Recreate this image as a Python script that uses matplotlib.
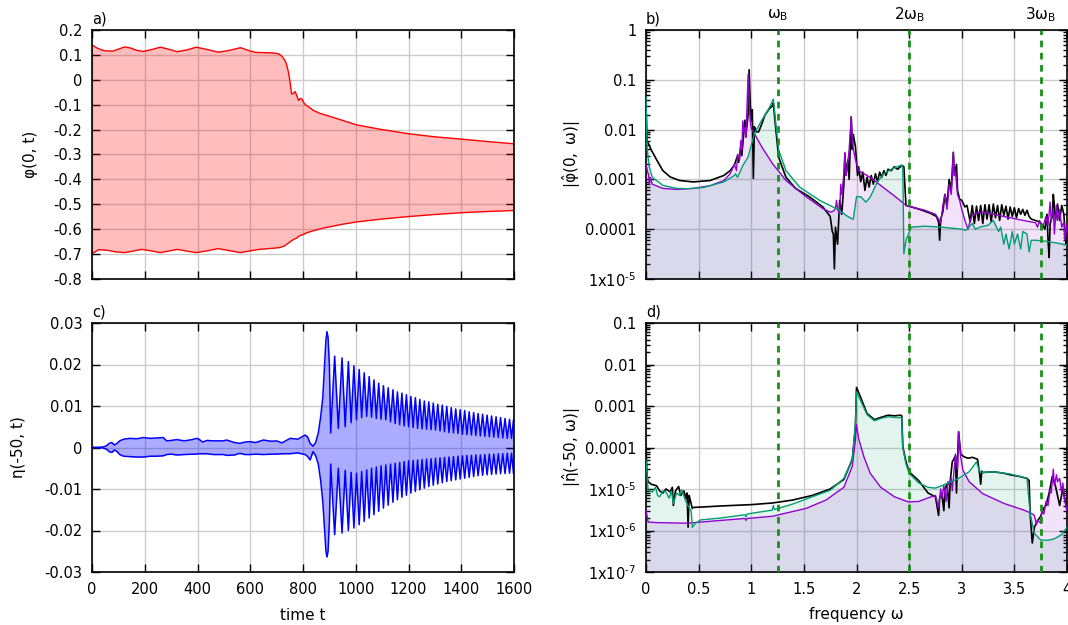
import numpy as np
import matplotlib.pyplot as plt

plt.rcParams['font.family'] = 'DejaVu Sans'
plt.rcParams['font.size'] = 10.5
plt.rcParams['axes.unicode_minus'] = False
plt.rcParams['mathtext.fontset'] = 'dejavusans'

# ---- a) phi(0,t): upper / lower envelope of the fast oscillation
phi_up = [(0, 0.140), (20, 0.127), (45, 0.117), (78, 0.115), (100, 0.123), (123, 0.132),
          (145, 0.128), (170, 0.118), (194, 0.114), (225, 0.121), (259, 0.131), (290, 0.123),
          (323, 0.113), (360, 0.120), (395, 0.131), (435, 0.122), (479, 0.111), (520, 0.118),
          (563, 0.129), (595, 0.117), (621, 0.110), (686, 0.108), (705, 0.105), (718, 0.097),
          (730, 0.080), (737, 0.064), (745, 0.030), (750, -0.003), (757, -0.057), (763, -0.055),
          (770, -0.047), (777, -0.065), (783, -0.083), (790, -0.075), (796, -0.077),
          (803, -0.092), (809, -0.100), (820, -0.108), (841, -0.124), (865, -0.135),
          (893, -0.144), (950, -0.163), (1003, -0.181), (1100, -0.200), (1203, -0.217),
          (1300, -0.229), (1397, -0.238), (1500, -0.248), (1600, -0.257)]
phi_lo = [(0, -0.698), (26, -0.682), (60, -0.685), (90, -0.691), (123, -0.694), (155, -0.688),
          (188, -0.681), (225, -0.687), (259, -0.694), (290, -0.688), (323, -0.681),
          (360, -0.688), (395, -0.694), (440, -0.686), (479, -0.678), (520, -0.686),
          (563, -0.694), (600, -0.687), (634, -0.681), (680, -0.677), (711, -0.674),
          (730, -0.667), (744, -0.656), (763, -0.642), (775, -0.636), (789, -0.625),
          (800, -0.622), (815, -0.614), (850, -0.603), (880, -0.595), (950, -0.580),
          (1003, -0.571), (1100, -0.559), (1203, -0.549), (1300, -0.541), (1397, -0.534),
          (1500, -0.529), (1600, -0.525)]

# ---- c) eta(-50,t): outline before the burst
t_c0 = [0, 40, 55, 65, 75, 85, 95, 105, 120, 144, 170, 195, 220, 245, 270, 283, 300, 321,
        350, 380, 397, 403, 420, 435, 460, 498, 511, 540, 560, 580, 599, 620, 650, 680, 700,
        720, 751, 780, 808, 818, 827, 838, 848, 858, 867, 875, 882, 887, 891, 895, 900, 905]
eta_up0 = [0, .0001, .0004, .0010, .0012, .0006, .0010, .0016, .0020, .0022,
           .0021, .0024, .0022, .0023, .0024, .0016, .0017, .0019, .0016, .0019,
           .0022, .0021, .0013, .0017, .0016, .0016, .0018, .0012, .0010, .0013,
           .0014, .0012, .0018, .0015, .0016, .0011, .0022, .0020, .0030, .0025,
           .0010, .0003, .0012, .0035, .0074, .0120, .0200, .0260, .0279, .0265,
           .0200, .0035]
eta_lo0 = [0, -.0001, -.0004, -.0010, -.0012, -.0006, -.0010, -.0017, -.0021, -.0022,
           -.0023, -.0023, -.0021, -.0021, -.0020, -.0017, -.0016, -.0018, -.0017, -.0016,
           -.0016, -.0015, -.0015, -.0015, -.0017, -.0017, -.0019, -.0018, -.0014, -.0017,
           -.0017, -.0016, -.0017, -.0016, -.0016, -.0015, -.0015, -.0013, -.0017, -.0022,
           -.0030, -.0010, -.0020, -.0040, -.0080, -.0130, -.0200, -.0250, -.0264, -.0250,
           -.0180, -.0040]

# after the burst: individual oscillation peaks and the dips between them
t_pk = [920, 948, 972, 993, 1013, 1032, 1051, 1069, 1087, 1105, 1123, 1141, 1158, 1175,
        1192, 1209, 1226, 1243, 1260, 1277, 1294, 1311, 1328, 1345, 1362, 1379, 1396, 1413,
        1430, 1447, 1464, 1481, 1498, 1515, 1532, 1549, 1566, 1583, 1598]
up_pk = [.0220, .0216, .0207, .0197, .0188, .0180, .0171, .0163, .0155, .0149, .0144, .0139,
         .0134, .0131, .0127, .0123, .0120, .0116, .0112, .0110, .0107, .0104, .0102, .0099,
         .0096, .0093, .0091, .0089, .0086, .0084, .0082, .0080, .0078, .0076, .0074, .0072,
         .0070, .0068, .0066]
up_vl = [.0046, .0050, .0060, .0067, .0072, .0075, .0073, .0070, .0068, .0067, .0062, .0058,
         .0055, .0052, .0050, .0048, .0046, .0045, .0044, .0043, .0042, .0040, .0038, .0036,
         .0035, .0034, .0032, .0031, .0030, .0029, .0028, .0027, .0026, .0025, .0024, .0023,
         .0022, .0022]
lo_pk = [-.0210, -.0206, -.0200, -.0194, -.0186, -.0178, -.0170, -.0162, -.0154, -.0146,
         -.0139, -.0132, -.0126, -.0120, -.0115, -.0110, -.0106, -.0102, -.0098, -.0094,
         -.0091, -.0088, -.0085, -.0082, -.0080, -.0078, -.0076, -.0074, -.0072, -.0070,
         -.0068, -.0067, -.0066, -.0065, -.0064, -.0063, -.0063, -.0062, -.0062]
lo_vl = [-.0050, -.0055, -.0060, -.0062, -.0058, -.0054, -.0050, -.0047, -.0044, -.0042,
         -.0040, -.0038, -.0036, -.0034, -.0032, -.0031, -.0030, -.0029, -.0028, -.0027,
         -.0026, -.0025, -.0024, -.0023, -.0022, -.0021, -.0020, -.0019, -.0019, -.0018,
         -.0018, -.0017, -.0016, -.0016, -.0015, -.0015, -.0014, -.0014]

# ---- b) |phi_hat(0, w)|
b_black = [(0.0, 3e-2), (0.01, 6e-3), (0.05, 3.9e-3), (0.10, 2.5e-3), (0.16, 1.5e-3),
           (0.23, 1.12e-3), (0.32, 9.5e-4), (0.45, 8.9e-4), (0.61, 9.5e-4), (0.74, 1.2e-3),
           (0.80, 1.5e-3), (0.84, 1.95e-3), (0.87, 3.0e-3), (0.88, 2.2e-3), (0.90, 4.5e-3),
           (0.91, 3.0e-3), (0.93, 9e-3), (0.94, 1.55e-2), (0.95, 8e-3), (0.97, 2e-2),
           (0.98, 0.16), (0.99, 3.4e-2), (1.00, 1.5e-2), (1.01, 2.5e-2), (1.02, 1.05e-3),
           (1.03, 1.15e-2), (1.05, 9e-3), (1.07, 9e-3), (1.10, 1.3e-2), (1.13, 1.95e-2),
           (1.17, 2.6e-2), (1.20, 3.0e-2), (1.21, 3.4e-2), (1.23, 1.2e-2), (1.26, 2.8e-3),
           (1.33, 1.1e-3), (1.42, 6.6e-4), (1.55, 4.5e-4), (1.68, 2.8e-4), (1.75, 1.8e-4),
           (1.77, 9e-5), (1.78, 8e-5), (1.79, 1.6e-5), (1.80, 1.1e-4), (1.82, 5e-5),
           (1.84, 3.8e-4), (1.86, 2e-4), (1.88, 8e-4), (1.89, 3.3e-3), (1.90, 1.3e-3),
           (1.92, 2.5e-3), (1.93, 1.0e-3), (1.95, 1.8e-2), (1.96, 4e-3), (1.97, 8e-3),
           (1.99, 4.5e-3), (2.01, 1.2e-3), (2.02, 1.8e-3), (2.04, 9e-4), (2.06, 1.4e-3),
           (2.08, 6e-4), (2.10, 1.1e-3), (2.12, 7e-4), (2.14, 1.2e-3), (2.16, 8e-4),
           (2.18, 1.3e-3), (2.20, 9e-4), (2.22, 1.4e-3), (2.24, 1.1e-3), (2.26, 1.5e-3),
           (2.28, 1.2e-3), (2.30, 1.6e-3), (2.33, 1.5e-3), (2.36, 1.8e-3), (2.39, 1.6e-3),
           (2.43, 1.9e-3), (2.45, 1.8e-3), (2.47, 3.0e-4), (2.50, 2.9e-4), (2.60, 2.5e-4),
           (2.70, 2.1e-4), (2.76, 1.8e-4), (2.78, 1.4e-4), (2.79, 6e-5), (2.80, 1.6e-4),
           (2.82, 2.2e-4), (2.84, 5e-4), (2.86, 3e-4), (2.88, 1e-3), (2.90, 6e-4),
           (2.92, 3.5e-3), (2.93, 1.2e-3), (2.95, 2e-3), (2.96, 6e-4), (2.98, 4e-4),
           (3.00, 3.8e-4), (3.03, 2.8e-4), (3.05, 3.0e-4), (3.08, 1.4e-4), (3.10, 3.0e-4),
           (3.12, 1.3e-4), (3.14, 2.9e-4), (3.16, 1.5e-4), (3.18, 3.0e-4), (3.20, 1.3e-4),
           (3.22, 3.1e-4), (3.24, 1.6e-4), (3.26, 3.1e-4), (3.28, 1.4e-4), (3.30, 3.2e-4),
           (3.32, 1.7e-4), (3.34, 3.0e-4), (3.36, 1.5e-4), (3.38, 3.1e-4), (3.40, 1.9e-4),
           (3.42, 2.9e-4), (3.44, 1.6e-4), (3.46, 2.8e-4), (3.48, 1.8e-4), (3.50, 2.7e-4),
           (3.52, 1.7e-4), (3.54, 2.6e-4), (3.56, 2.0e-4), (3.58, 2.5e-4), (3.60, 1.9e-4),
           (3.62, 2.4e-4), (3.64, 1.8e-4), (3.66, 1.6e-4), (3.70, 1.5e-4), (3.74, 1.4e-4),
           (3.77, 1.2e-4), (3.79, 1.0e-4), (3.81, 2.0e-4), (3.82, 6e-5), (3.83, 2.7e-5),
           (3.84, 1.3e-4), (3.86, 1.8e-4), (3.87, 5e-4), (3.88, 3e-4), (3.89, 1.5e-4),
           (3.91, 3.2e-4), (3.93, 1.5e-4), (3.95, 3.0e-4), (3.97, 2.0e-4), (3.99, 5e-5),
           (4.0, 1.2e-4)]
b_purple = [(0.0, 2.0e-3), (0.02, 1.3e-3), (0.025, 1.3e-3), (0.03, 8e-4), (0.04, 1.1e-3),
            (0.06, 8e-4), (0.16, 6.6e-4), (0.29, 6.3e-4), (0.45, 6.6e-4), (0.61, 7.5e-4),
            (0.74, 9.5e-4), (0.80, 1.3e-3), (0.84, 2.0e-3), (0.86, 1.5e-3), (0.87, 3.2e-3),
            (0.89, 2.5e-3), (0.90, 6e-3), (0.91, 4e-3), (0.92, 1.5e-2), (0.93, 9e-3),
            (0.94, 1.1e-2), (0.95, 7e-3), (0.97, 0.13), (0.98, 3.9e-2), (0.99, 1.5e-2),
            (1.00, 1.05e-2), (1.03, 8.3e-3), (1.10, 4.5e-3), (1.20, 2.1e-3), (1.33, 9.5e-4),
            (1.52, 4.5e-4), (1.68, 2.6e-4), (1.75, 2.2e-4), (1.78, 2.3e-4), (1.80, 2.6e-4),
            (1.81, 3.8e-4), (1.82, 2.5e-4), (1.84, 2.0e-4), (1.85, 8e-4), (1.86, 5e-4),
            (1.88, 1.3e-3), (1.89, 3.5e-3), (1.90, 1.2e-3), (1.91, 1.5e-3), (1.93, 4e-3),
            (1.95, 1.8e-2), (1.96, 6e-3), (1.97, 4e-3), (1.99, 2.5e-3), (2.02, 1.5e-3),
            (2.10, 1.2e-3), (2.17, 9.5e-4), (2.25, 7e-4), (2.33, 5.2e-4), (2.40, 4e-4),
            (2.47, 3.0e-4), (2.55, 2.7e-4), (2.65, 2.4e-4), (2.75, 2.0e-4), (2.78, 1.6e-4),
            (2.80, 1.3e-4), (2.82, 3e-4), (2.84, 5e-4), (2.86, 2.5e-4), (2.88, 8e-4),
            (2.90, 5e-4), (2.92, 3.5e-3), (2.93, 1.2e-3), (2.94, 1.5e-3), (2.96, 5e-4),
            (2.98, 3.8e-4), (3.00, 2.5e-4), (3.03, 1.5e-4), (3.06, 1.0e-4), (3.08, 1.5e-4),
            (3.10, 1.9e-4), (3.15, 2.2e-4), (3.20, 2.2e-4), (3.30, 2.0e-4), (3.40, 1.8e-4),
            (3.46, 1.7e-4), (3.55, 1.55e-4), (3.62, 1.45e-4), (3.70, 1.35e-4), (3.72, 1.1e-4),
            (3.74, 1.5e-4), (3.76, 1.0e-4), (3.78, 1.3e-4), (3.80, 1.8e-4), (3.82, 1.2e-4),
            (3.84, 3.5e-4), (3.85, 1.5e-4), (3.87, 2.5e-4), (3.88, 8e-5), (3.90, 3.0e-4),
            (3.91, 1.5e-4), (3.93, 2.5e-4), (3.95, 1.1e-4), (3.97, 1.4e-4), (3.98, 6e-5),
            (4.0, 1.2e-4)]
b_teal = [(0.0, 4.5e-2), (0.01, 4.5e-3), (0.03, 1.8e-3), (0.06, 1.1e-3), (0.16, 7.6e-4),
          (0.29, 6.6e-4), (0.40, 6.5e-4), (0.55, 6.9e-4), (0.74, 8.9e-4), (0.84, 1.2e-3),
          (0.85, 1.3e-3), (0.87, 1.1e-3), (0.92, 1.9e-3), (0.97, 2.8e-3), (1.03, 8.3e-3),
          (1.10, 1.55e-2), (1.16, 2.45e-2), (1.21, 4.1e-2), (1.23, 1.55e-2), (1.26, 3.9e-3),
          (1.33, 1.5e-3), (1.46, 7e-4), (1.65, 3.8e-4), (1.84, 2.4e-4), (1.90, 1.9e-4),
          (1.96, 1.6e-4), (1.97, 1.6e-4), (2.00, 4.5e-4), (2.04, 4.5e-4), (2.09, 3.5e-4),
          (2.13, 4.4e-4), (2.20, 9e-4), (2.26, 1.3e-3), (2.33, 1.6e-3), (2.43, 1.95e-3),
          (2.44, 1.7e-3), (2.45, 3.2e-5), (2.47, 6e-5), (2.52, 1.1e-4), (2.65, 1.15e-4),
          (2.81, 1.1e-4), (3.00, 1.0e-4), (3.04, 9.5e-5), (3.10, 1.3e-4), (3.13, 1.0e-4),
          (3.17, 1.1e-4), (3.25, 1.2e-4), (3.30, 1.5e-4), (3.35, 9e-5), (3.37, 1.1e-4),
          (3.40, 5e-5), (3.42, 8e-5), (3.45, 4e-5), (3.48, 9e-5), (3.50, 5e-5), (3.53, 8e-5),
          (3.56, 4e-5), (3.58, 9e-5), (3.62, 8e-5), (3.64, 3.5e-5), (3.66, 6e-5),
          (3.70, 6e-5), (3.78, 5.8e-5), (3.90, 5.3e-5), (4.0, 4.8e-5)]

# ---- d) |eta_hat(-50, w)|
d_black = [(0.0, 8.7e-5), (0.01, 2.0e-5), (0.02, 1.5e-5), (0.05, 1.3e-5), (0.10, 1.2e-5),
           (0.13, 9e-6), (0.16, 8e-6), (0.19, 1.0e-5), (0.23, 8.5e-6), (0.25, 1.1e-5),
           (0.26, 4e-6), (0.28, 9e-6), (0.31, 1.15e-5), (0.33, 7e-6), (0.36, 9e-6),
           (0.38, 6e-6), (0.39, 8e-6), (0.40, 1.2e-6), (0.41, 7e-6), (0.42, 5.5e-6),
           (0.44, 3.4e-6), (0.45, 3.6e-6), (0.55, 3.7e-6), (0.71, 3.9e-6), (1.00, 4.2e-6),
           (1.20, 4.6e-6), (1.39, 5.4e-6), (1.58, 7e-6), (1.75, 1.0e-5), (1.88, 1.7e-5),
           (1.96, 5.2e-5), (1.99, 3.2e-4), (2.00, 2.8e-3), (2.03, 1.85e-3), (2.10, 6.6e-4),
           (2.17, 4.7e-4), (2.23, 5.3e-4), (2.30, 6.0e-4), (2.36, 5.8e-4), (2.42, 6.0e-4),
           (2.43, 5.8e-4), (2.44, 1.05e-4), (2.47, 4.6e-5), (2.50, 2.6e-5), (2.59, 1.6e-5),
           (2.68, 8e-6), (2.75, 6.5e-6), (2.78, 2.3e-6), (2.79, 6e-6), (2.81, 8e-6),
           (2.83, 3e-6), (2.84, 1.0e-5), (2.86, 1.3e-5), (2.88, 3.5e-6), (2.89, 1.5e-5),
           (2.91, 4.5e-5), (2.92, 5e-5), (2.94, 6.3e-5), (2.95, 8e-6), (2.96, 5e-5),
           (2.97, 2.4e-4), (2.99, 7e-5), (3.02, 6e-5), (3.06, 5.5e-5), (3.10, 5.8e-5),
           (3.15, 5.2e-5), (3.17, 2.3e-5), (3.18, 1.3e-5), (3.19, 2.7e-5), (3.20, 2.5e-5),
           (3.30, 2.6e-5), (3.40, 2.4e-5), (3.46, 2.2e-5), (3.55, 2.0e-5), (3.62, 1.8e-5),
           (3.64, 1.6e-5), (3.65, 2.5e-6), (3.67, 5e-7), (3.69, 1.2e-6), (3.72, 1.7e-6),
           (3.75, 2.2e-6), (3.78, 3.5e-6), (3.80, 4e-6), (3.83, 8e-6), (3.86, 2.0e-5),
           (3.89, 1.2e-5), (3.93, 4e-6), (3.96, 1.0e-5), (4.0, 3.2e-6)]
d_purple = [(0.0, 3.1e-6), (0.02, 1.6e-6), (0.10, 1.55e-6), (0.39, 1.5e-6), (0.94, 1.95e-6),
            (0.95, 1.75e-6), (0.96, 1.95e-6), (1.20, 2.2e-6), (1.52, 3.4e-6), (1.71, 5.4e-6),
            (1.88, 1.1e-5), (1.96, 3.5e-5), (1.99, 1.5e-4), (2.00, 3.6e-4), (2.02, 1.65e-4),
            (2.07, 6e-5), (2.13, 2.4e-5), (2.23, 1.1e-5), (2.36, 6.5e-6), (2.49, 4.9e-6),
            (2.59, 5.0e-6), (2.68, 6.1e-6), (2.75, 7e-6), (2.77, 4.5e-6), (2.78, 3.5e-6),
            (2.80, 1.0e-5), (2.81, 6e-6), (2.83, 1.2e-5), (2.85, 5e-6), (2.87, 1.5e-5),
            (2.88, 1.3e-5), (2.90, 1.8e-5), (2.91, 9e-6), (2.94, 7e-5), (2.96, 3e-5),
            (2.97, 2.4e-4), (2.99, 6e-5), (3.01, 2.9e-5), (3.07, 1.5e-5), (3.20, 7.7e-6),
            (3.40, 4.5e-6), (3.59, 3.1e-6), (3.66, 2.6e-6), (3.69, 2.3e-6), (3.71, 1.4e-6),
            (3.72, 1.8e-6), (3.75, 1.5e-6), (3.76, 3e-6), (3.78, 2.5e-6), (3.80, 5e-6),
            (3.82, 4e-6), (3.84, 1.0e-5), (3.85, 8e-6), (3.87, 3e-5), (3.88, 1.2e-5),
            (3.90, 2.2e-5), (3.91, 1.5e-5), (3.93, 1.8e-5), (3.95, 8e-6), (3.96, 1.4e-5),
            (3.98, 5e-6), (4.0, 3e-6)]
d_teal = [(0.0, 5e-5), (0.02, 9.3e-6), (0.06, 8.5e-6), (0.09, 1.1e-5), (0.11, 7e-6),
          (0.13, 6.5e-6), (0.16, 9e-6), (0.19, 8.5e-6), (0.22, 6e-6), (0.24, 9e-6),
          (0.26, 4.5e-6), (0.29, 8e-6), (0.32, 7e-6), (0.34, 9.5e-6), (0.37, 5.7e-6),
          (0.40, 3.9e-6), (0.43, 2.9e-6), (0.44, 1.2e-6), (0.47, 1.5e-6), (0.52, 1.8e-6),
          (0.71, 2.0e-6), (0.94, 2.4e-6), (0.95, 2.15e-6), (0.96, 2.5e-6), (1.20, 3.1e-6),
          (1.21, 4e-6), (1.22, 3.2e-6), (1.39, 4.3e-6), (1.58, 6.5e-6), (1.75, 9.3e-6),
          (1.88, 1.8e-5), (1.96, 5e-5), (1.99, 4e-4), (2.00, 2.2e-3), (2.03, 1.5e-3),
          (2.10, 6.2e-4), (2.17, 4.4e-4), (2.23, 5.0e-4), (2.30, 5.5e-4), (2.36, 5.3e-4),
          (2.43, 5.2e-4), (2.44, 1.0e-4), (2.47, 4e-5), (2.50, 2.4e-5), (2.59, 1.4e-5),
          (2.68, 1.1e-5), (2.75, 1.05e-5), (2.81, 1.2e-5), (2.90, 1.5e-5), (2.97, 1.8e-5),
          (3.07, 2.6e-5), (3.14, 4.5e-5), (3.17, 2.7e-5), (3.20, 2.5e-5), (3.30, 2.6e-5),
          (3.46, 2.3e-5), (3.62, 1.8e-5), (3.65, 2.5e-6), (3.69, 8.5e-7), (3.75, 5.9e-7),
          (3.82, 5.8e-7), (3.88, 6.3e-7), (3.95, 8e-7), (4.0, 1.2e-6)]

omega_B = 1.25
harmonics = [1, 2, 3]
harm_labels = [r'$\mathregular{\omega_B}$', r'$\mathregular{2\omega_B}$', r'$\mathregular{3\omega_B}$']

RED = '#ff0000'
BLUE = '#0000ff'
PURPLE = '#9400d3'
TEAL = '#009e73'
GREEN = '#1a8f1a'

W, H = 1068, 625
fig = plt.figure(figsize=(W / 100, H / 100), dpi=100)


def box(l, t, r, b):
    return [l / W, 1 - b / H, (r - l) / W, (b - t) / H]


ax_a = fig.add_axes(box(92, 30, 514, 279))
ax_c = fig.add_axes(box(92, 323, 514, 572))
ax_b = fig.add_axes(box(646, 30, 1067, 279))
ax_d = fig.add_axes(box(646, 323, 1067, 572))


def style(ax):
    ax.tick_params(which='both', direction='in', top=True, right=True, width=1)
    ax.tick_params(which='major', length=6, pad=7)
    ax.tick_params(which='minor', length=3.2)
    ax.grid(True, which='major', color='#cccccc', lw=1)
    ax.set_axisbelow(True)
    for s in ax.spines.values():
        s.set_linewidth(1.2)


# a)
ua = np.array(phi_up).T
la = np.array(phi_lo).T
ax_a.fill(np.concatenate([ua[0], la[0][::-1]]), np.concatenate([ua[1], la[1][::-1]]),
          color=RED, alpha=0.26, lw=0)
ax_a.plot(ua[0], ua[1], color=RED, lw=1)
ax_a.plot(la[0], la[1], color=RED, lw=1)
ax_a.set_xlim(0, 1600)
ax_a.set_ylim(-0.8, 0.2)
ax_a.set_xticks(np.arange(0, 1601, 200))
ax_a.set_xticklabels([])
ax_a.set_yticks(np.round(np.arange(-0.8, 0.21, 0.1), 1))
ax_a.set_yticklabels(['-0.8', '-0.7', '-0.6', '-0.5', '-0.4', '-0.3', '-0.2', '-0.1',
                      '0', '0.1', '0.2'])
style(ax_a)

# c)
t_mid = (np.array(t_pk[:-1]) + np.array(t_pk[1:])) / 2
n = 2 * len(t_pk) - 1
t_late = np.empty(n)
t_late[0::2] = t_pk
t_late[1::2] = t_mid
up_late = np.empty(n)
up_late[0::2] = up_pk
up_late[1::2] = up_vl
lo_late = np.empty(n)
lo_late[0::2] = lo_pk
lo_late[1::2] = lo_vl
t_c = np.concatenate([t_c0, t_late])
eta_up = np.concatenate([eta_up0, up_late])
eta_lo = np.concatenate([eta_lo0, lo_late])
ax_c.fill_between(t_c, eta_lo, eta_up, color=BLUE, alpha=0.33, lw=0)
ax_c.plot(t_c, eta_up, color=BLUE, lw=1.1)
ax_c.plot(t_c, eta_lo, color=BLUE, lw=1.1)
ax_c.set_xlim(0, 1600)
ax_c.set_ylim(-0.03, 0.03)
ax_c.set_xticks(np.arange(0, 1601, 200))
ax_c.set_yticks([-0.03, -0.02, -0.01, 0, 0.01, 0.02, 0.03])
ax_c.set_yticklabels(['-0.03', '-0.02', '-0.01', '0', '0.01', '0.02', '0.03'])
style(ax_c)


def spectrum(ax, black, purple, teal, ymin, ymax, labels):
    for data, col in ((teal, TEAL), (purple, PURPLE)):
        w, v = np.array(data).T
        ax.fill_between(w, v, ymin, color=col, alpha=0.11, lw=0)
    for data, col, lw in ((black, 'black', 1.2), (purple, PURPLE, 1.0), (teal, TEAL, 1.0)):
        w, v = np.array(data).T
        ax.plot(w, v, color=col, lw=lw, zorder=3)
    for k in harmonics:
        ax.axvline(k * omega_B, color=GREEN, lw=2, ls=(0, (2.4, 2.0)), zorder=4)
    ax.set_yscale('log')
    ax.set_xlim(0, 4)
    ax.set_ylim(ymin, ymax)
    ax.set_xticks(np.arange(0, 4.01, 0.5))
    ax.set_xticklabels(['0', '0.5', '1', '1.5', '2', '2.5', '3', '3.5', '4'])
    exps = range(int(round(np.log10(ymin))), int(round(np.log10(ymax))) + 1)
    ax.set_yticks([10.0 ** e for e in exps])
    ax.set_yticklabels(labels)
    ax.yaxis.set_minor_locator(plt.LogLocator(base=10, subs=np.arange(2, 10), numticks=20))
    ax.yaxis.set_minor_formatter(plt.NullFormatter())
    style(ax)


def sci(e):
    # plain hyphen in the exponent, as in the original figure
    return r'1x10$^{\mathregular{‐%d}}$' % e


spectrum(ax_b, b_black, b_purple, b_teal, 1e-5, 1,
         [sci(5), '0.0001', '0.001', '0.01', '0.1', '1'])
ax_b.set_xticklabels([])
spectrum(ax_d, d_black, d_purple, d_teal, 1e-7, 0.1,
         [sci(7), sci(6), sci(5), '0.0001', '0.001', '0.01', '0.1'])

for k, lab in zip(harmonics, harm_labels):
    ax_b.text(k * omega_B, 1.06, lab, transform=ax_b.get_xaxis_transform(),
              ha='center', va='center', fontsize=11)

for ax, tag in ((ax_a, 'a)'), (ax_b, 'b)'), (ax_c, 'c)'), (ax_d, 'd)')):
    ax.text(0, 1.015, tag, transform=ax.transAxes, ha='left', va='bottom', fontsize=10.5)

fig.text(30 / W, 1 - 154 / H, 'φ(0, t)', rotation=90, ha='center', va='center', fontsize=11)
fig.text(18 / W, 1 - 447 / H, 'η(-50, t)', rotation=90, ha='center', va='center', fontsize=11)
fig.text(572 / W, 1 - 154 / H, r'$\mathregular{|\hat{φ}(0,\ ω)|}$', rotation=90,
         ha='center', va='center', fontsize=11)
fig.text(572 / W, 1 - 447 / H, r'$\mathregular{|\hat{η}(}$-50, ω)|', rotation=90,
         ha='center', va='center', fontsize=11)
fig.text(303 / W, 1 - 615 / H, 'time t', ha='center', va='center', fontsize=11)
fig.text(856 / W, 1 - 615 / H, 'frequency ω', ha='center', va='center', fontsize=11)

fig.savefig('out.png', dpi=100)
